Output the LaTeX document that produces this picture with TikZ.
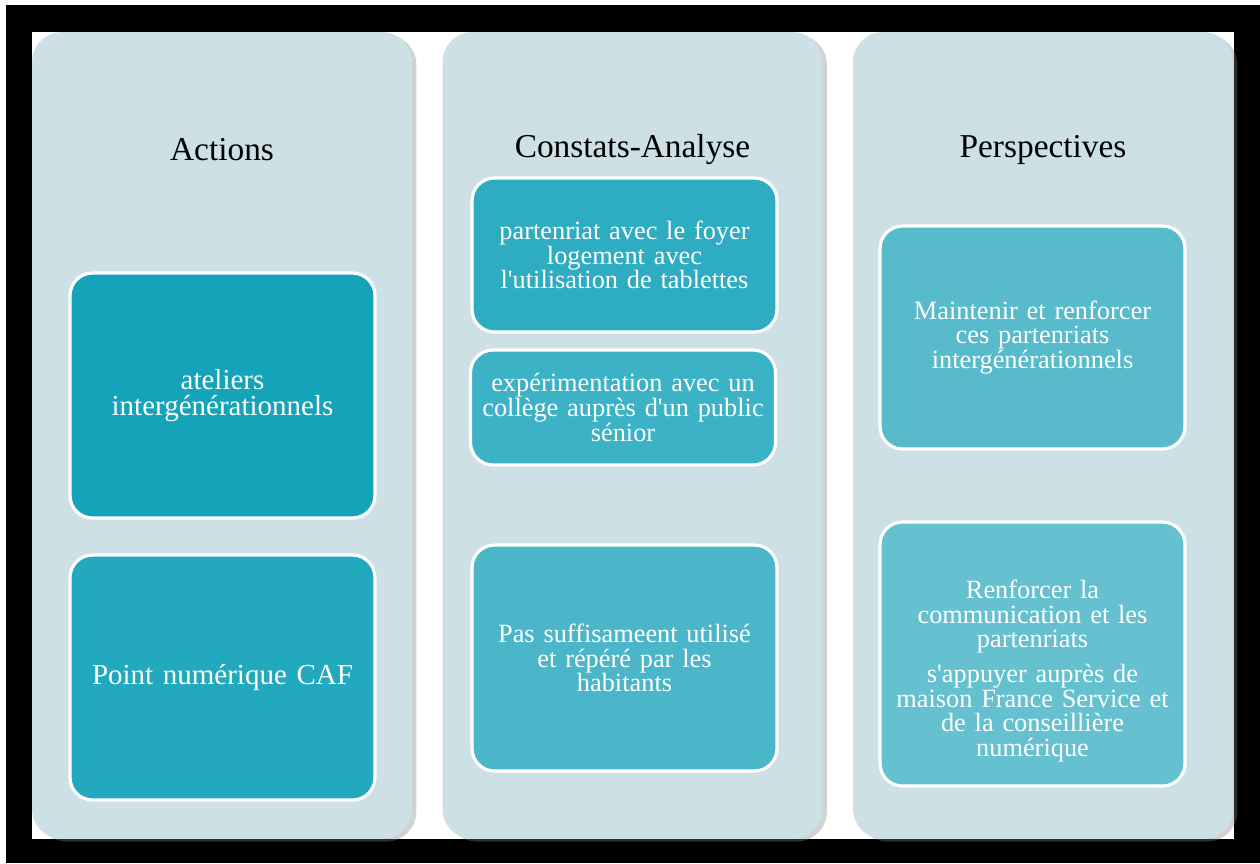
\documentclass[tikz,border=0pt]{standalone}
\usepackage{fontspec}
\setmainfont{Liberation Serif}
\usetikzlibrary{shadows}

\definecolor{colbg}{HTML}{CCE0E6}
\definecolor{actA}{HTML}{14A3B9}
\definecolor{actB}{HTML}{22A9BE}
\definecolor{conA}{HTML}{2EADC2}
\definecolor{conB}{HTML}{3CB2C6}
\definecolor{conC}{HTML}{4BB6C9}
\definecolor{perA}{HTML}{57BBCC}
\definecolor{perB}{HTML}{65C0D0}

\begin{document}
\begin{tikzpicture}[x=0.02cm, y=-0.02cm,
    column/.style={fill=colbg, rounded corners=0.6cm, minimum width=7.6cm, minimum height=16.14cm,
      drop shadow={opacity=0.35, shadow xshift=2.5pt, shadow yshift=-1.5pt}},
    head/.style={font=\fontsize{19}{22}\selectfont, text=black},
    box/.style={draw=white, line width=1.8pt, rounded corners=0.45cm, text=white, align=center,
      inner xsep=0.1cm, text width=5.85cm, minimum width=6.1cm, font=\fontsize{15}{14}\selectfont},
    bigbox/.style={box, font=\fontsize{16.5}{15}\selectfont},
    boxtext/.style={text=white, align=center, text width=5.85cm, font=\fontsize{15}{14}\selectfont}]
    \useasboundingbox (0,0) rectangle (1260,863);
    \fill[black] (6,5) rectangle (1260,863);
    \fill[white] (32,32) rectangle (1234,839);

    % columns
    \node[column] (colA) at (222,435.5) {};
    \node[column] (colB) at (632.5,435.5) {};
    \node[column] (colC) at (1043,435.5) {};

    \node[head] (actions) at (222,150) {Actions};
    \node[head] (constats) at (632.5,150) {Constats-Analyse};
    \node[head] (perspectives) at (1043,150) {Perspectives};

    % Actions
    \node[bigbox, fill=actA, minimum height=4.9cm] (act1) at (222.5,395.5) {ateliers\\ intergénérationnels};
    \node[bigbox, fill=actB, minimum height=4.9cm] (act2) at (222.5,677.5) {Point numérique CAF};

    % Constats-Analyse
    \node[box, fill=conA, minimum height=3.08cm] (con1) at (624.5,255) {partenriat avec le foyer\\ logement avec\\ l\textquotesingle utilisation de tablettes};
    \node[box, fill=conB, minimum height=2.3cm] (con2) at (623,407.5) {expérimentation avec un\\ collège auprès d\textquotesingle un public\\ sénior};
    \node[box, fill=conC, minimum height=4.52cm] (con3) at (624.5,658) {Pas suffisameent utilisé\\ et répéré par les\\ habitants};

    % Perspectives
    \node[box, fill=perA, minimum height=4.46cm] (per1) at (1032.5,337.5) {Maintenir et renforcer\\ ces partenriats\\ intergénérationnels};
    \node[box, fill=perB, minimum height=5.28cm] (per2) at (1032.5,654) {};
    \node[boxtext] (per2txt) at (1032.5,671) {Renforcer la\\ communication et les\\ partenriats\\[6pt] s\textquotesingle appuyer auprès de\\ maison France Service et\\ de la conseillière\\ numérique};
\end{tikzpicture}
\end{document}
